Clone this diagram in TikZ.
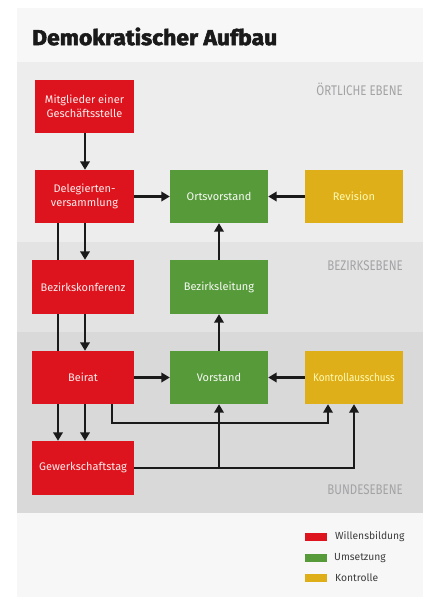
\documentclass[tikz,border=0pt]{standalone}
\usepackage{fontspec}
\setmainfont{Fira Sans}
\usetikzlibrary{arrows.meta,calc}
\definecolor{vred}{HTML}{DD141D}
\definecolor{vgreen}{HTML}{579A3A}
\definecolor{vyellow}{HTML}{DFAF1A}
\definecolor{bandA}{HTML}{F7F7F7}
\definecolor{bandB}{HTML}{EDEDEE}
\definecolor{bandC}{HTML}{E3E3E4}
\definecolor{bandD}{HTML}{D9D9DA}
\definecolor{lvl}{HTML}{A3A3A5}
\definecolor{ink}{HTML}{1A1A1A}
\begin{document}
\begin{tikzpicture}[x=1pt,y=-1pt,
  box/.style={minimum width=99pt,minimum height=53pt,inner sep=0pt,align=center,
     font=\fontsize{11}{13.5}\selectfont},
  redbox/.style={box,fill=vred,text=white!92!vred},
  greenbox/.style={box,fill=vgreen,text=white!95!vgreen},
  yellowbox/.style={box,fill=vyellow,text=white!70!yellow},
  conn/.style={draw=ink,line width=2.2pt},
  arr/.style={conn,-{Triangle[length=8.5pt,width=9.5pt]}},
  lvltext/.style={anchor=east,inner sep=0pt,text=lvl,font=\fontsize{14}{16}\selectfont},
  legbox/.style={minimum width=22pt,minimum height=8pt,inner sep=0pt},
  legtext/.style={anchor=west,inner sep=0pt,text=ink!85,font=\fontsize{10.3}{12}\selectfont}]
\useasboundingbox (0,0) rectangle (437,600);
\fill[white] (0,0) rectangle (437,600);
% bands
\fill[bandA] (17,8) rectangle (423,62);
\fill[bandB] (17,62) rectangle (423,242);
\fill[bandC] (17,242) rectangle (423,332);
\fill[bandD] (17,332) rectangle (423,513);
\fill[bandA] (17,513) rectangle (423,597);
% title
\node[anchor=west,inner sep=0pt,text=ink] (title) at (32,36.5)
  {\resizebox{245pt}{17.5pt}{\fontsize{25}{25}\selectfont\bfseries\addfontfeature{FakeBold=2.5}Demokratischer Aufbau}};
% level labels
\node[lvltext] (l1) at (403,89) {\scalebox{0.82}[1]{ÖRTLICHE EBENE}};
\node[lvltext] (l2) at (403,266) {\scalebox{0.82}[1]{BEZIRKSEBENE}};
\node[lvltext] (l3) at (403,490) {\scalebox{0.82}[1]{BUNDESEBENE}};
% boxes
\node[redbox] (mit) at (84.5,106.5) {Mitglieder einer\\Geschäftsstelle};
\node[redbox] (del) at (84.5,196.5) {Delegierten-\\versammlung};
\node[greenbox,minimum width=98pt] (ov) at (219,196.5) {Ortsvorstand};
\node[yellowbox,minimum width=98pt] (rev) at (354,196.5) {Revision};
\node[redbox,minimum width=102pt,minimum height=54pt] (bk) at (83,287) {Bezirkskonferenz};
\node[greenbox,minimum width=98pt,minimum height=54pt] (bl) at (219,287) {Bezirksleitung};
\node[redbox,minimum width=102pt] (bei) at (83,377.5) {Beirat};
\node[greenbox,minimum width=98pt] (vor) at (219,377.5) {Vorstand};
\node[yellowbox,minimum width=98pt] (ka) at (354,377.5) {\scalebox{0.9}[1]{Kontrollausschuss}};
\node[redbox,minimum width=102pt,minimum height=54pt] (gew) at (83,468) {Gewerkschaftstag};
% helper coordinates
\coordinate (xa) at (58,0);
\coordinate (xb) at (85,0);
\coordinate (xc) at (112,0);
\coordinate (xd) at (328,0);
\coordinate (xe) at (354,0);
\coordinate (xf) at (219,0);
\coordinate (yb) at (0,423);
% connectors
\draw[arr] (mit.south -| xb) -- (del.north -| xb);
\draw[arr] (del.east) -- (ov.west);
\draw[arr] (rev.west) -- (ov.east);
\draw[conn] (del.south -| xa) -- (bk.north -| xa);
\draw[arr] (del.south -| xb) -- (bk.north -| xb);
\draw[conn] (bk.south -| xa) -- (bei.north -| xa);
\draw[arr] (bk.south -| xb) -- (bei.north -| xb);
\draw[arr] (bl.north) -- (ov.south);
\draw[arr] (vor.north) -- (bl.south);
\draw[arr] (bei.east) -- (vor.west);
\draw[arr] (ka.west) -- (vor.east);
\draw[arr] (bei.south -| xa) -- (gew.north -| xa);
\draw[arr] (bei.south -| xb) -- (gew.north -| xb);
\draw[arr] (bei.south -| xc) -- (yb -| xc) -- (yb -| xd) -- (ka.south -| xd);
\draw[arr] (gew.east) -- (gew.east -| xe) -- (ka.south -| xe);
\draw[arr] (gew.east -| xf) -- (vor.south);
% legend
\node[legbox,fill=vred] (lr) at (316,537) {};
\node[legbox,fill=vgreen] (lg) at (316,558) {};
\node[legbox,fill=vyellow] (ly) at (316,578) {};
\node[legtext] (tr) at (335,537) {Willensbildung};
\node[legtext] (tg) at (334,558) {Umsetzung};
\node[legtext] (ty) at (335,578) {Kontrolle};
\end{tikzpicture}
\end{document}
